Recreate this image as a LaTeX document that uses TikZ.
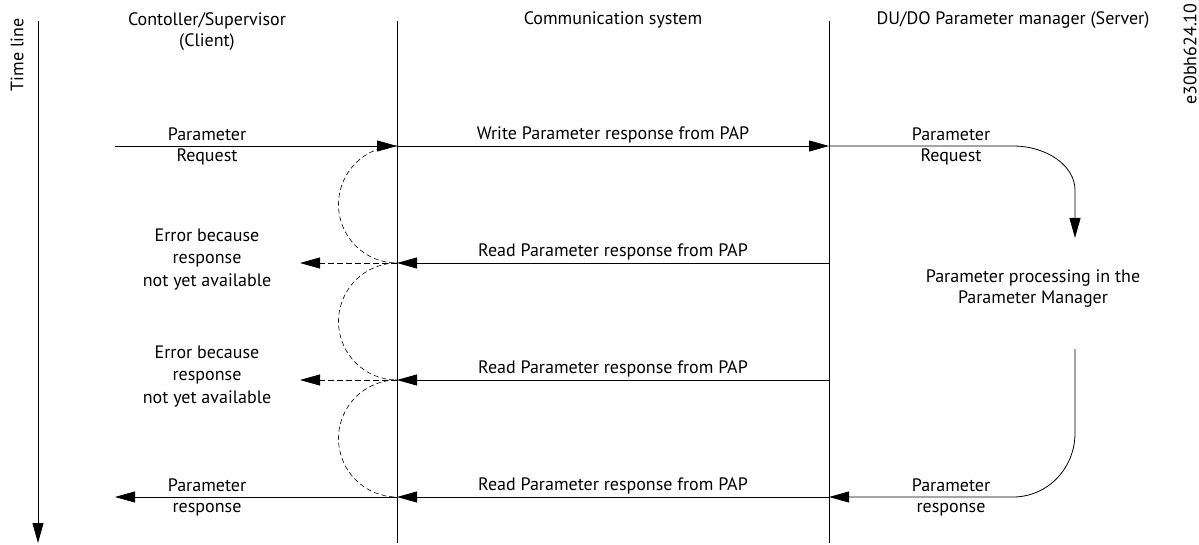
\documentclass[tikz,border=0pt]{standalone}
\usepackage{fontspec}
\setmainfont{PT Sans}
\usetikzlibrary{arrows.meta}
\tikzset{
  lbl/.style={inner sep=0pt, align=center, font=\fontsize{18}{21}\selectfont},
  lbltri/.style={inner sep=0pt, align=center, font=\fontsize{18}{22.5}\selectfont},
  lifeline/.style={line width=0.8pt},
  msg/.style={line width=0.8pt, -{Triangle[length=20pt,width=11pt]}},
  errmsg/.style={msg, dash pattern=on 6pt off 3pt},
  loopback/.style={line width=0.6pt, dash pattern=on 5pt off 3pt},
}
\begin{document}
\begin{tikzpicture}[x=1pt, y=-1pt]
\useasboundingbox (0,0) rectangle (1199,545);

% time axis and lifelines
\coordinate (tTop) at (38,21);
\coordinate (tBot) at (38,543);
\coordinate (cTop) at (397,21);
\coordinate (cBot) at (397,543);
\coordinate (sTop) at (829,21);
\coordinate (sBot) at (829,543);
\draw[msg] (tTop) -- (tBot);
\draw[lifeline] (cTop) -- (cBot);
\draw[lifeline] (sTop) -- (sBot);

\node[lbl, rotate=90] (tl) at (17,55) {Time line};
\node[lbl, rotate=90] (docid) at (1190,54) {e30bh624.10};

% column headings
\node[lbl] (hClient) at (207,31.5) {Contoller/Supervisor\\(Client)};
\node[lbl] (hComm) at (613,20) {Communication system};
\node[lbl] (hServer) at (1013,20) {DU/DO Parameter manager (Server)};

% message end points
\coordinate (a0) at (115,146);
\coordinate (c1) at (397,146);
\coordinate (s1) at (829,146);
\coordinate (c2) at (397,263);
\coordinate (s2) at (829,263);
\coordinate (e1) at (300,263);
\coordinate (c3) at (397,380);
\coordinate (s3) at (829,380);
\coordinate (e2) at (300,380);
\coordinate (c4) at (397,497);
\coordinate (s4) at (829,497);
\coordinate (a4) at (115,497);
\coordinate (p1) at (1075,238);
\coordinate (p2) at (1075,349);

% request
\draw[msg] (a0) -- (c1);
\draw[msg] (c1) -- (s1);
\draw[msg] (s1) -- (1013,146) .. controls (1047,146) and (1075,166) .. (1075,190) -- (p1);

% polling
\draw[msg] (s2) -- (c2);
\draw[errmsg] (c2) -- (e1);
\draw[msg] (s3) -- (c3);
\draw[errmsg] (c3) -- (e2);

% response
\draw[msg] (p2) -- (1075,433) .. controls (1075,469) and (1047,497) .. (1013,497) -- (s4);
\draw[msg] (s4) -- (c4);
\draw[msg] (c4) -- (a4);

% retry loops on the client lifeline
\draw[loopback] (c1) arc[start angle=90, end angle=270, radius=58.5pt];
\draw[loopback] (c2) arc[start angle=90, end angle=270, radius=58.5pt];
\draw[loopback] (c3) arc[start angle=90, end angle=270, radius=58.5pt];

% labels
\node[lbl] (lReq) at (207,146) {Parameter\\Request};
\node[lbl] (lWrite) at (613,135) {Write Parameter response from PAP};
\node[lbl] (lSReq) at (951,146) {Parameter\\Request};
\node[lbl] (lProc) at (1033,288.5) {Parameter processing in the\\Parameter Manager};
\node[lbl] (lRead1) at (613,252) {Read Parameter response from PAP};
\node[lbl] (lRead2) at (613,369) {Read Parameter response from PAP};
\node[lbl] (lRead3) at (613,486) {Read Parameter response from PAP};
\node[lbltri] (lErr1) at (207,259.5) {Error because\\response\\not yet available};
\node[lbltri] (lErr2) at (207,376.5) {Error because\\response\\not yet available};
\node[lbl] (lResp) at (207,497) {Parameter\\response};
\node[lbl] (lSResp) at (951,497) {Parameter\\response};
\end{tikzpicture}
\end{document}
